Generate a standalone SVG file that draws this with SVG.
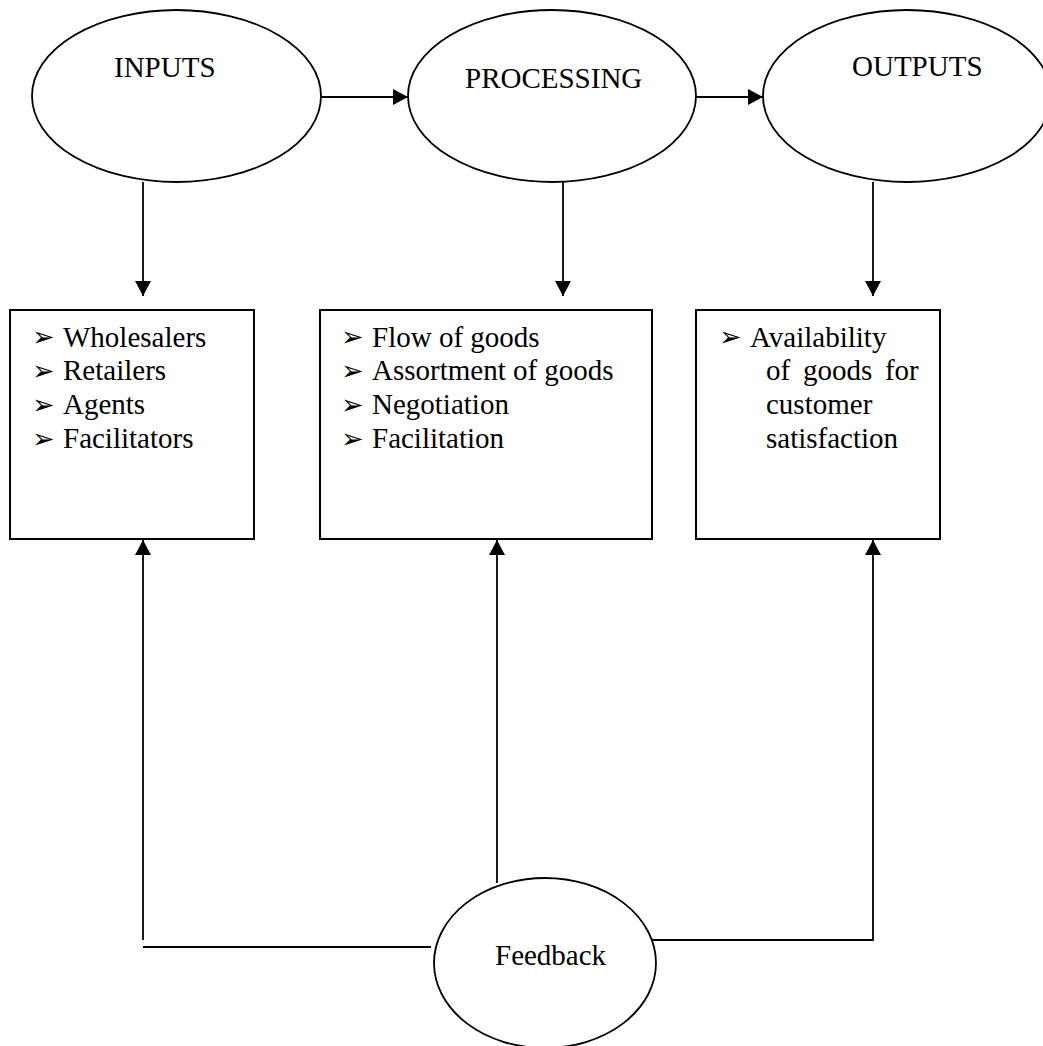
<svg xmlns="http://www.w3.org/2000/svg" width="1043" height="1046" viewBox="0 0 1043 1046">
  <style>
    .shape { fill: #ffffff; stroke: #000000; stroke-width: 1.8; }
    .box { fill: #ffffff; stroke: #000000; stroke-width: 2; }
    .wire { fill: none; stroke: #000000; stroke-width: 1.8; }
    .arrow { marker-end: url(#head); }
    .label { font-family: "Liberation Serif", "Times New Roman", serif; font-size: 29px; fill: #000000; }
    .bullet { font-family: "DejaVu Sans", sans-serif; font-size: 27px; fill: #000000; }
  </style>
  <defs>
    <marker id="head" markerUnits="userSpaceOnUse" markerWidth="16" markerHeight="16" refX="15" refY="8" orient="auto">
      <path d="M0,0 L15,8 L0,16 z" fill="#000000"/>
    </marker>
  </defs>
  <rect width="1043" height="1046" fill="#ffffff"/>

  <!-- connectors -->
  <g id="connectors">
    <!-- stage to stage -->
    <line class="wire arrow" x1="321" y1="97" x2="408" y2="97"/>
    <line class="wire arrow" x1="696" y1="97" x2="763" y2="97"/>
    <!-- stages down to their detail boxes -->
    <line class="wire arrow" x1="143" y1="182" x2="143" y2="296"/>
    <line class="wire arrow" x1="563" y1="182" x2="563" y2="296"/>
    <line class="wire arrow" x1="873" y1="182" x2="873" y2="296"/>
    <!-- feedback loop -->
    <line class="wire arrow" x1="143" y1="940" x2="143" y2="540"/>
    <line class="wire" x1="143" y1="947" x2="431" y2="947"/>
    <line class="wire arrow" x1="497" y1="883" x2="497" y2="540"/>
    <polyline class="wire arrow" points="652,940 873,940 873,540"/>
  </g>

  <!-- stages -->
  <g id="inputs">
    <ellipse class="shape" cx="176.5" cy="96" rx="144.5" ry="86"/>
    <text class="label" x="114" y="77">INPUTS</text>
  </g>
  <g id="processing">
    <ellipse class="shape" cx="552" cy="96" rx="144" ry="86"/>
    <text class="label" x="465" y="88">PROCESSING</text>
  </g>
  <g id="outputs">
    <ellipse class="shape" cx="907" cy="96" rx="144" ry="86"/>
    <text class="label" x="852" y="76">OUTPUTS</text>
  </g>

  <!-- detail boxes -->
  <g id="inputs-detail">
    <rect class="box" x="10" y="310" width="244" height="229"/>
    <text class="bullet" x="32" y="346">➢</text>
    <text class="bullet" x="32" y="380">➢</text>
    <text class="bullet" x="32" y="414">➢</text>
    <text class="bullet" x="32" y="448">➢</text>
    <text class="label" x="63" y="347">Wholesalers</text>
    <text class="label" x="63" y="380">Retailers</text>
    <text class="label" x="63" y="414">Agents</text>
    <text class="label" x="63" y="448">Facilitators</text>
  </g>
  <g id="processing-detail">
    <rect class="box" x="320" y="310" width="332" height="229"/>
    <text class="bullet" x="341" y="346">➢</text>
    <text class="bullet" x="341" y="380">➢</text>
    <text class="bullet" x="341" y="414">➢</text>
    <text class="bullet" x="341" y="448">➢</text>
    <text class="label" x="372" y="347">Flow of goods</text>
    <text class="label" x="372" y="380">Assortment of goods</text>
    <text class="label" x="372" y="414">Negotiation</text>
    <text class="label" x="372" y="448">Facilitation</text>
  </g>
  <g id="outputs-detail">
    <rect class="box" x="696" y="310" width="244" height="229"/>
    <text class="bullet" x="719" y="346">➢</text>
    <text class="label" x="750" y="347">Availability</text>
    <text class="label" x="766" y="380" word-spacing="5.5">of goods for</text>
    <text class="label" x="766" y="414">customer</text>
    <text class="label" x="766" y="448">satisfaction</text>
  </g>

  <!-- feedback -->
  <g id="feedback">
    <ellipse class="shape" cx="545" cy="963" rx="111" ry="85"/>
    <text class="label" x="495" y="965">Feedback</text>
  </g>
</svg>
